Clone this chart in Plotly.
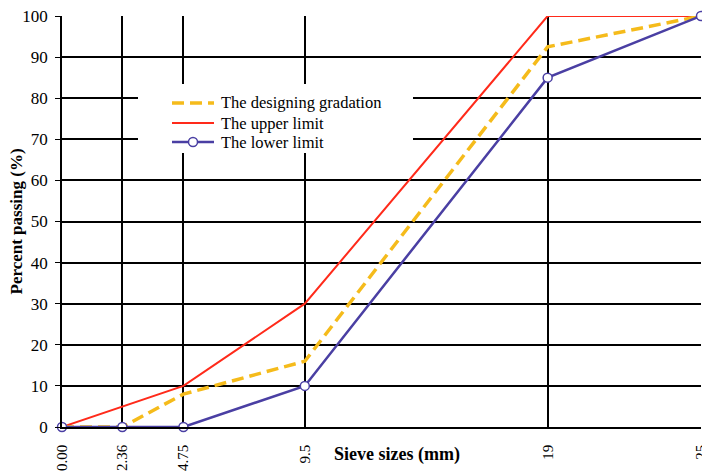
import plotly.graph_objects as go

sieve_sizes = [0, 2.36, 4.75, 9.5, 19, 25]
tick_labels = ["0.00", "2.36", "4.75", "9.5", "19", "25"]
design = [0, 0, 8, 16, 92.5, 100]
upper = [0, 5, 10, 30, 100, 100]
lower = [0, 0, 0, 10, 85, 100]

names = ["The designing gradation", "The upper limit", "The lower limit"]
colors = ["#F5BB1B", "#FF2A1A", "#4A3FA3"]

font = "Liberation Serif"

# the page body has an 8px margin; the figure is offset by it
W, H = 702, 464
L, T, B, R = 54, 8, 45, 9
PW, PH = W - L - R, H - T - B


def px(xs):  # screen x -> paper
    return (xs - 62) / PW


def py(ys):  # screen y -> paper
    return (427 - ys) / PH


fig = go.Figure()
fig.add_trace(go.Scatter(x=sieve_sizes, y=upper, mode="lines", name=names[1],
                         line=dict(color=colors[1], width=2), cliponaxis=False))
fig.add_trace(go.Scatter(x=sieve_sizes, y=design, mode="lines", name=names[0],
                         line=dict(color=colors[0], width=3.5, dash="12px,6px"), cliponaxis=False))
fig.add_trace(go.Scatter(x=sieve_sizes, y=lower, mode="lines+markers", name=names[2],
                         line=dict(color=colors[2], width=2.5),
                         marker=dict(symbol="circle", size=9, color="white",
                                     line=dict(color=colors[2], width=1.5)),
                         cliponaxis=False))

shapes = [dict(type="rect", xref="paper", yref="paper", layer="above",
               x0=px(138), x1=px(413), y0=py(153), y1=py(84),
               fillcolor="white", line=dict(width=0))]
annotations = [
    dict(text="<b>Sieve sizes (mm)</b>", x=px(397), y=py(455), xref="paper", yref="paper",
         xanchor="center", yanchor="middle", showarrow=False,
         font=dict(family=font, size=18, color="black")),
    dict(text="<b>Percent passing (%)</b>", x=px(16), y=0.5, xref="paper", yref="paper",
         xanchor="center", yanchor="middle", showarrow=False, textangle=-90,
         font=dict(family=font, size=17, color="black")),
]
row_y = [103, 123, 142]
dashes = ["12px,6px", "solid", "solid"]
widths = [3.5, 2, 2.5]
for i, name in enumerate(names):
    shapes.append(dict(type="line", xref="paper", yref="paper", layer="above",
                       x0=px(172), x1=px(214), y0=py(row_y[i]), y1=py(row_y[i]),
                       line=dict(color=colors[i], width=widths[i], dash=dashes[i])))
    annotations.append(dict(text=name, x=px(219), y=py(row_y[i]), xref="paper", yref="paper",
                            xanchor="left", yanchor="middle", showarrow=False,
                            font=dict(family=font, size=16.5, color="black")))
shapes.append(dict(type="circle", xref="paper", yref="paper", layer="above",
                   xsizemode="pixel", ysizemode="pixel",
                   xanchor=px(193), yanchor=py(row_y[2]),
                   x0=-4.5, x1=4.5, y0=-4.5, y1=4.5,
                   fillcolor="white", line=dict(color=colors[2], width=1.5)))

fig.update_layout(
    width=W, height=H,
    margin=dict(l=L, r=R, t=T, b=B),
    paper_bgcolor="white", plot_bgcolor="white",
    font=dict(family=font, size=15, color="black"),
    showlegend=False,
    shapes=shapes,
    annotations=annotations,
)
fig.update_xaxes(range=[0, 25], tickmode="array", tickvals=sieve_sizes, ticktext=tick_labels,
                 tickangle=-90, showgrid=True, gridcolor="black", gridwidth=1.5,
                 zeroline=False, showline=True, linecolor="black", linewidth=1.5,
                 ticks="", ticklabelstandoff=10, automargin=False, ticklabeloverflow="allow",
                 tickfont=dict(family=font, size=15))
fig.update_yaxes(range=[0, 100], dtick=10, showgrid=True, gridcolor="black", gridwidth=1.5,
                 zeroline=False, showline=True, linecolor="black", linewidth=1.5,
                 ticks="outside", ticklen=5, tickcolor="black", ticklabelstandoff=4,
                 automargin=False, ticklabeloverflow="allow",
                 tickfont=dict(family=font, size=17))

fig.write_html("out.html")
